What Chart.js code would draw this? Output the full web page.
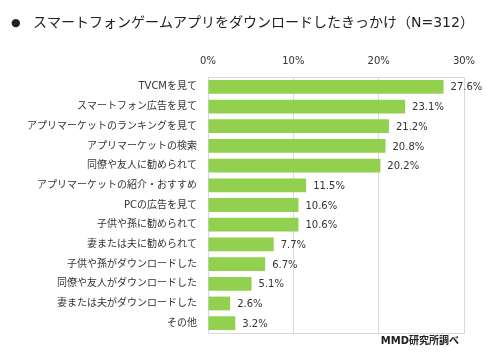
<!DOCTYPE html>
<html>
<head>
<meta charset="utf-8">
<script src="https://cdn.jsdelivr.net/npm/chart.js@4"></script>
<style>
  html, body { margin: 0; padding: 0; background: #fff; }
  #wrap { width: 500px; height: 361px; position: relative; }
</style>
</head>
<body>
<div id="wrap"><canvas id="chart" width="500" height="361"></canvas></div>
<script>
const titleText = 'スマートフォンゲームアプリをダウンロードしたきっかけ（N=312）';
const sourceText = 'MMD研究所調べ';
const categories = [
  'TVCMを見て',
  'スマートフォン広告を見て',
  'アプリマーケットのランキングを見て',
  'アプリマーケットの検索',
  '同僚や友人に勧められて',
  'アプリマーケットの紹介・おすすめ',
  'PCの広告を見て',
  '子供や孫に勧められて',
  '妻または夫に勧められて',
  '子供や孫がダウンロードした',
  '同僚や友人がダウンロードした',
  '妻または夫がダウンロードした',
  'その他'
];
const values = [27.6, 23.1, 21.2, 20.8, 20.2, 11.5, 10.6, 10.6, 7.7, 6.7, 5.1, 2.6, 3.2];
const tickValues = [0, 10, 20, 30];

const fontFamily = '"DejaVu Sans", "Noto Sans CJK JP", sans-serif';
const textColor = '#333333';
const gridColor = '#d9d9d9';

// title, source note, plot frame and value labels
const extras = {
  id: 'extras',
  beforeDatasetsDraw(chart) {
    const ctx = chart.ctx;
    const a = chart.chartArea;
    ctx.save();
    ctx.strokeStyle = gridColor;
    ctx.lineWidth = 1;
    ctx.strokeRect(Math.round(a.left) + 0.5, Math.round(a.top) + 0.5,
      Math.round(a.right - a.left), Math.round(a.bottom - a.top));
    ctx.restore();
  },
  afterDraw(chart) {
    const ctx = chart.ctx;
    ctx.save();
    ctx.fillStyle = '#222';
    ctx.textBaseline = 'middle';
    ctx.font = '11px ' + fontFamily;
    ctx.fillText('●', 11, 23);
    ctx.font = '14px ' + fontFamily;
    ctx.fillText(titleText, 33, 23);

    ctx.font = 'bold 10px ' + fontFamily;
    ctx.textAlign = 'right';
    ctx.fillText(sourceText, 459, 341);

    const meta = chart.getDatasetMeta(0);
    ctx.font = '10px ' + fontFamily;
    ctx.fillStyle = textColor;
    ctx.textAlign = 'left';
    meta.data.forEach((bar, i) => {
      ctx.fillText(values[i].toFixed(1) + '%', bar.x + 7, bar.y + 1);
    });
    ctx.restore();
  }
};

new Chart(document.getElementById('chart'), {
  type: 'bar',
  data: {
    labels: categories,
    datasets: [{
      data: values,
      backgroundColor: '#92d050',
      borderWidth: 0,
      categoryPercentage: 0.7,
      barPercentage: 1.0
    }]
  },
  plugins: [extras],
  options: {
    indexAxis: 'y',
    responsive: false,
    animation: false,
    layout: { padding: { left: 0, right: 36, top: 0, bottom: 28 } },
    plugins: {
      legend: { display: false },
      tooltip: { enabled: false }
    },
    scales: {
      x: {
        position: 'top',
        min: 0,
        max: 30,
        afterFit(scale) { scale.height = 77; },
        afterBuildTicks(scale) { scale.ticks = tickValues.map(v => ({ value: v })); },
        grid: { color: gridColor, drawTicks: false },
        border: { display: false },
        ticks: {
          padding: 10,
          color: textColor,
          font: { family: fontFamily, size: 10 },
          callback: v => v + '%'
        }
      },
      y: {
        afterFit(scale) { scale.width = 208; },
        grid: { display: false, drawTicks: false },
        border: { display: false },
        ticks: {
          padding: 11,
          color: textColor,
          font: { family: fontFamily, size: 10 }
        }
      }
    }
  }
});
</script>
</body>
</html>
